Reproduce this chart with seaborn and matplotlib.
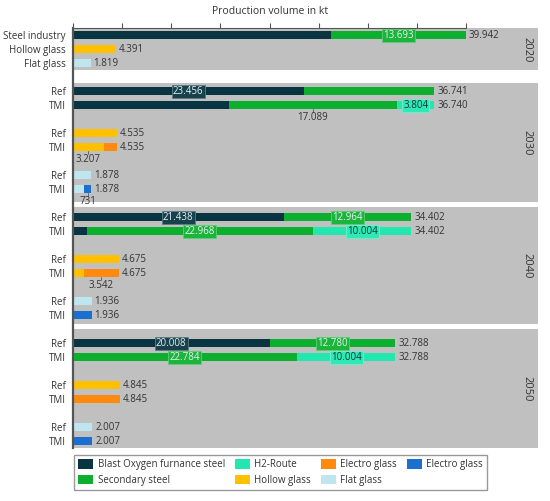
import numpy as np
import pandas as pd
import seaborn as sns
import matplotlib.pyplot as plt
from matplotlib.colors import to_rgb
from matplotlib.patches import Patch
from matplotlib.transforms import blended_transform_factory

# production volumes in kt, one entry per bar row
rows = ["2020", "2030 Ref", "2030 TMI", "2040 Ref", "2040 TMI", "2050 Ref", "2050 TMI"]
years = ["2020", "2030", "2040", "2050"]
scenarios = ["Ref", "TMI"]

bof_steel = [26249, 23456, 15847, 21438, 1430, 20008, 0]
secondary_steel = [13693, 13285, 17089, 12964, 22968, 12780, 22784]
h2_route = [0, 0, 3804, 0, 10004, 0, 10004]
hollow_glass = [4391, 4535, 3207, 4675, 1133, 4845, 0]
electro_hollow = [0, 0, 1328, 0, 3542, 0, 4845]
flat_glass = [1819, 1878, 1147, 1936, 0, 2007, 0]
electro_flat = [0, 0, 731, 0, 1936, 0, 2007]

products = {
    "steel": [("bof", bof_steel), ("secondary", secondary_steel), ("h2", h2_route)],
    "hollow": [("hollow", hollow_glass), ("electro_hollow", electro_hollow)],
    "flat": [("flat", flat_glass), ("electro_flat", electro_flat)],
}
first_names = {"steel": "Steel industry", "hollow": "Hollow glass", "flat": "Flat glass"}

colors = {
    "bof": "#083541",
    "secondary": "#0cb02e",
    "h2": "#22e8b0",
    "hollow": "#ffc000",
    "electro_hollow": "#ff8a0d",
    "flat": "#bfe6ee",
    "electro_flat": "#1a6fcf",
}
legend_names = {
    "bof": "Blast Oxygen furnance steel",
    "secondary": "Secondary steel",
    "h2": "H2-Route",
    "hollow": "Hollow glass",
    "electro_hollow": "Electro glass",
    "flat": "Flat glass",
    "electro_flat": "Electro glass",
}

# which segments get a value label inside the bar / below the bar
inside_labels = [("2020", "secondary"), ("2030 Ref", "bof"), ("2030 TMI", "h2"),
                 ("2040 Ref", "bof"), ("2040 Ref", "secondary"),
                 ("2040 TMI", "secondary"), ("2040 TMI", "h2"),
                 ("2050 Ref", "bof"), ("2050 Ref", "secondary"),
                 ("2050 TMI", "secondary"), ("2050 TMI", "h2")]
below_labels = [("2030 TMI", "secondary"), ("2030 TMI", "hollow"),
                ("2030 TMI", "electro_flat"), ("2040 TMI", "electro_hollow")]


def fmt(v):
    return f"{v:,}".replace(",", ".")


def lighten(c, amount):
    r, g, b = to_rgb(c)
    return (r + (1 - r) * amount, g + (1 - g) * amount, b + (1 - b) * amount)


# category slots, with empty slots between groups
slot_order, slot_labels = [], []
for p in products:
    slot_order.append(f"2020|{p}")
    slot_labels.append(first_names[p])
for y in years[1:]:
    for p in products:
        slot_order.append(f"gap {y} {p}")
        slot_labels.append("")
        for s in scenarios:
            slot_order.append(f"{y} {s}|{p}")
            slot_labels.append(s)
slot_pos = {s: i for i, s in enumerate(slot_order)}

records = []
for i, row in enumerate(rows):
    for p, comps in products.items():
        cum = 0
        for comp, vals in comps:
            v = vals[i]
            if v:
                records.append(dict(row=row, slot=f"{row}|{p}", comp=comp,
                                    value=v, start=cum, end=cum + v))
                cum += v
df = pd.DataFrame(records)

sns.set_theme(style="white")
plt.rcParams["font.family"] = ["Open Sans", "DejaVu Sans"]
text_color = "#333333"

fig = plt.figure(figsize=(5.5, 5.01), dpi=100)
ax = fig.add_axes([72.7 / 550, 1 - 448.3 / 501, 465.6 / 550, 420 / 501])

# grey panels per year
bands = [(-0.5, 2.5), (3.4, 11.9), (12.25, 20.6), (20.95, 29.5)]
for (top, bottom), year in zip(bands, years):
    ax.axhspan(top, bottom, color="#c0c0c0", lw=0, zorder=0)

# stacked bars: draw cumulative ends, outermost segment first
draw_order = ["h2", "electro_hollow", "electro_flat", "secondary", "hollow", "flat", "bof"]
for comp in draw_order:
    sub = df[df["comp"] == comp]
    sns.barplot(data=sub, x="end", y="slot", order=slot_order, orient="h",
                color=colors[comp], saturation=1, width=0.55, errorbar=None,
                linewidth=0, ax=ax)

ax.set_xlim(0, 47300)
ax.set_ylim(29.5, -0.5)
ax.set_xlabel("")
ax.set_ylabel("")
ax.set_yticks(range(len(slot_order)))
ax.set_yticklabels(slot_labels, fontsize=7, color=text_color)
ax.tick_params(axis="y", length=0, pad=5)
ax.xaxis.tick_top()
ax.set_xticks(np.arange(0, 40001, 5000))
ax.tick_params(axis="x", length=3.5, width=0.8, color="#555555", labeltop=False)
for side in ["right", "bottom"]:
    ax.spines[side].set_visible(False)
ax.spines["top"].set_bounds(0, 40000)
ax.spines["top"].set_color("#555555")
ax.spines["top"].set_linewidth(0.8)
ax.spines["left"].set_color("#555555")
ax.spines["left"].set_linewidth(1.6)

trans = blended_transform_factory(ax.transData, ax.transAxes)
ax.text(20000, 1.04, "Production volume in kt", transform=trans,
        ha="center", va="center", fontsize=7.5, color=text_color)

trans_y = blended_transform_factory(ax.transAxes, ax.transData)
for (top, bottom), year in zip(bands, years):
    ax.text(0.976, (top + bottom) / 2, year, transform=trans_y, rotation=-90,
            ha="center", va="center", fontsize=8, color=text_color)

# totals at the end of each bar
totals = df.groupby("slot")["value"].sum()
for slot, total in totals.items():
    ax.annotate(fmt(int(total)), (total, slot_pos[slot]), xytext=(2, 0),
                textcoords="offset points", ha="left", va="center",
                fontsize=7, color=text_color)

seg = df.set_index(["row", "comp"])
for row, comp in inside_labels:
    r = seg.loc[(row, comp)]
    dark_text = comp == "h2"
    ax.text(r["start"] + r["value"] / 2, slot_pos[r["slot"]], fmt(int(r["value"])),
            ha="center", va="center", fontsize=7,
            color="#0a3641" if dark_text else "#e6f2f2",
            bbox=dict(boxstyle="square,pad=0.12", fc=lighten(colors[comp], 0.06),
                      ec=lighten(colors[comp], 0.35), lw=0.6))

for row, comp in below_labels:
    r = seg.loc[(row, comp)]
    x = r["start"] + r["value"] / 2
    y = slot_pos[r["slot"]]
    ax.plot([x, x], [y + 0.28, y + 0.45], color="#555555", lw=0.6)
    ax.text(x, y + 0.85, fmt(int(r["value"])), ha="center", va="center",
            fontsize=7, color=text_color)

legend_order = ["bof", "secondary", "h2", "hollow", "electro_hollow", "flat", "electro_flat"]
handles = [Patch(facecolor=colors[c], edgecolor="none") for c in legend_order]
fig.legend(handles, [legend_names[c] for c in legend_order], ncol=4,
           loc="upper left", bbox_to_anchor=(74 / 550, 1 - 455 / 501),
           frameon=True, fancybox=False, edgecolor="#999999", framealpha=1,
           fontsize=7, handlelength=1.55, handleheight=1.1, handletextpad=0.45,
           columnspacing=1.0, labelspacing=0.45, borderpad=0.45,
           borderaxespad=0, labelcolor=text_color)

fig.savefig("out.png", dpi=100)
